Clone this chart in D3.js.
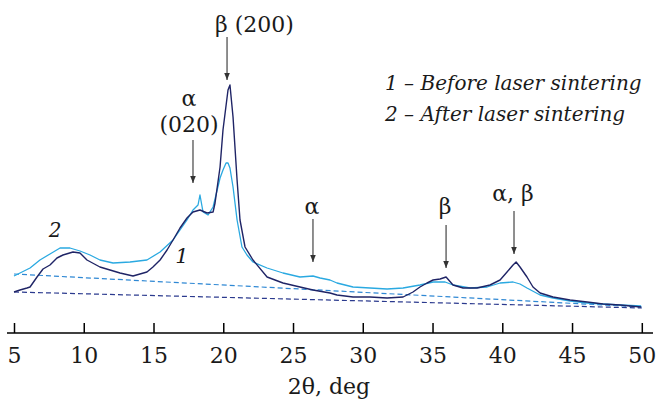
<!DOCTYPE html>
<html>
<head>
<meta charset="utf-8">
<script src="https://cdn.jsdelivr.net/npm/d3@7"></script>
<style>
  html, body { margin: 0; padding: 0; background: #fff; }
</style>
</head>
<body>
<div id="chart"></div>
<script>
// XRD patterns, 2θ in degrees, intensity in arbitrary units
const before2Theta = [5.00, 5.43, 5.93, 6.15, 6.65, 7.08, 7.58, 8.08, 8.51, 9.23, 9.73, 10.23, 11.16, 11.88, 12.60, 13.53,
  14.53, 14.96, 15.47, 15.97, 16.40, 16.90, 17.40, 17.83, 18.33, 18.84, 19.27, 19.41, 19.77, 19.98, 20.34, 20.48,
  20.70, 20.99, 21.20, 21.56, 22.13, 23.14, 24.28, 25.50, 26.43, 27.65, 28.15, 29.30, 30.52, 31.74, 32.89, 33.60,
  34.10, 34.61, 35.04, 35.54, 35.97, 36.47, 37.19, 38.19, 39.12, 39.84, 40.34, 40.77, 40.99, 41.27, 41.77, 42.20,
  42.71, 43.64, 44.86, 46.08, 47.22, 48.44, 49.95];
const beforeIntensity = [40, 42, 44, 45, 55, 63, 67, 74, 77, 80, 79, 72, 65, 62, 59, 56,
  60, 65, 72, 82, 92, 104, 114, 120, 122, 119, 120, 129, 165, 202, 242, 247,
  215, 152, 112, 85, 72, 55, 49, 45, 42, 39, 37, 35, 35, 34, 35, 40,
  45, 49, 52, 53, 55, 47, 44, 44, 47, 52, 60, 67, 70, 65, 55, 45,
  39, 35, 32, 30, 28, 27, 25];

const after2Theta = [5.00, 6.15, 6.86, 7.58, 8.30, 9.01, 9.73, 10.45, 11.16, 12.10, 13.32, 14.53, 15.47, 16.40, 17.40,
  17.83, 18.19, 18.33, 18.55, 18.91, 19.27, 19.77, 19.98, 20.20, 20.34, 20.48, 20.70, 20.99, 21.34, 21.70, 22.13,
  23.14, 24.28, 25.50, 26.43, 26.94, 27.65, 28.15, 29.30, 30.52, 31.74, 32.89, 34.10, 35.04, 35.90, 36.47, 37.69,
  38.91, 39.84, 40.77, 41.27, 41.77, 42.71, 43.64, 44.86, 46.08, 47.22, 48.44, 49.95];
const afterIntensity = [56, 64, 72, 78, 84, 84, 81, 77, 72, 69, 70, 72, 80, 92, 112,
  122, 127, 137, 120, 117, 125, 154, 162, 169, 169, 164, 145, 112, 85, 77, 70,
  64, 59, 55, 56, 54, 52, 49, 45, 44, 43, 44, 47, 50, 50, 47, 44,
  45, 49, 50, 48, 44, 37, 34, 31, 29, 28, 27, 26];

// background lines (start, end)
const baseline2Theta = [5, 50];
const beforeBaseline = [40, 24];
const afterBaseline = [58, 25];

const xTicks = [5, 10, 15, 20, 25, 30, 35, 40, 45, 50];

// peak markers: position, arrow tip intensity, label lines
const peakAt = [20.27, 17.83, 26.43, 35.97, 40.84];
const peakTip = [252, 149, 70, 64, 78];
const peakLabels = [["β (200)"], ["α", "(020)"], ["α"], ["β"], ["α, β"]];

const legendLines = ["1 – Before laser sintering", "2 – After laser sintering"];

const width = 658, height = 400;
const darkColor = "#1f2466", lightColor = "#2aa9e1";
const serif = "DejaVu Serif";

const x = d3.scaleLinear().domain([5, 50]).range([14, 641.8]);
const y = d3.scaleLinear().domain([0, 250]).range([332, 82]);

const svg = d3.select("#chart").append("svg")
  .attr("width", width)
  .attr("height", height)
  .attr("font-family", serif);

svg.append("defs").append("marker")
  .attr("id", "arrow")
  .attr("viewBox", "0 0 10 10")
  .attr("refX", 10).attr("refY", 5)
  .attr("markerWidth", 7).attr("markerHeight", 7)
  .attr("markerUnits", "userSpaceOnUse")
  .attr("orient", "auto")
  .append("path")
  .attr("d", "M0,1 L10,5 L0,9 Z")
  .attr("fill", "#333");

// dashed background lines
const dashed = [
  { v: afterBaseline, color: "#2f88d4" },
  { v: beforeBaseline, color: "#2b3a8e" }
];
svg.selectAll("line.base")
  .data(dashed)
  .enter().append("line")
  .attr("class", "base")
  .attr("x1", x(baseline2Theta[0])).attr("x2", x(baseline2Theta[1]))
  .attr("y1", d => y(d.v[0])).attr("y2", d => y(d.v[1]))
  .attr("stroke", d => d.color)
  .attr("stroke-width", 1.2)
  .attr("stroke-dasharray", "5,3");

const line = d3.line()
  .x(d => x(d[0]))
  .y(d => y(d[1]));

const series = [
  { xs: after2Theta, ys: afterIntensity, color: lightColor, w: 1.3 },
  { xs: before2Theta, ys: beforeIntensity, color: darkColor, w: 1.4 }
];

svg.selectAll("path.curve")
  .data(series)
  .enter().append("path")
  .attr("class", "curve")
  .attr("fill", "none")
  .attr("stroke", d => d.color)
  .attr("stroke-width", d => d.w)
  .attr("stroke-linejoin", "round")
  .attr("d", d => line(d.xs.map((v, i) => [v, d.ys[i]])));

// x axis
const axisY = 333;
const axis = svg.append("g")
  .attr("transform", `translate(0,${axisY})`)
  .call(d3.axisBottom(x).tickValues(xTicks).tickSizeInner(-10).tickSizeOuter(0).tickFormat(d3.format("d")))
  .attr("font-family", serif)
  .attr("font-size", 22);
axis.select(".domain").remove();
axis.selectAll(".tick line").attr("stroke", "#000").attr("stroke-width", 1.5);
axis.selectAll(".tick text")
  .attr("y", 29.5).attr("dy", 0)
  .attr("fill", "#1a1a1a");
svg.append("line")
  .attr("x1", 7).attr("x2", 653)
  .attr("y1", axisY).attr("y2", axisY)
  .attr("stroke", "#000").attr("stroke-width", 1.5);

svg.append("text")
  .attr("x", 329).attr("y", 394)
  .attr("text-anchor", "middle")
  .attr("font-size", 22)
  .attr("fill", "#1a1a1a")
  .text("2θ, deg");

// peak arrows and labels
const arrowLen = 43;
const labelGap = [5, 8, 5, 11, 10];
peakAt.forEach((deg, i) => {
  const px = x(deg), tip = y(peakTip[i]);
  svg.append("line")
    .attr("x1", px).attr("x2", px)
    .attr("y1", tip - arrowLen).attr("y2", tip)
    .attr("stroke", "#333").attr("stroke-width", 1.1)
    .attr("marker-end", "url(#arrow)");
  const lines = peakLabels[i];
  const txt = svg.append("text")
    .attr("font-size", 22)
    .attr("fill", "#1a1a1a");
  const lx = i === 0 ? px - 12 : i === 1 ? px - 4 : px - 1;
  txt.attr("text-anchor", i === 0 ? "start" : "middle");
  lines.forEach((t, j) => {
    txt.append("tspan")
      .attr("x", lx)
      .attr("y", tip - arrowLen - labelGap[i] - (lines.length - 1 - j) * 26)
      .text(t);
  });
});

// curve numbers
svg.append("text")
  .attr("x", 55).attr("y", 237)
  .attr("text-anchor", "middle")
  .attr("font-size", 20).attr("font-style", "italic")
  .attr("fill", "#1a1a1a")
  .text("2");
svg.append("text")
  .attr("x", 182).attr("y", 263)
  .attr("text-anchor", "middle")
  .attr("font-size", 21).attr("font-style", "italic")
  .attr("fill", "#1a1a1a")
  .text("1");

// legend
svg.selectAll("text.legend")
  .data(legendLines)
  .enter().append("text")
  .attr("class", "legend")
  .attr("x", 385)
  .attr("y", (d, i) => 90 + i * 31)
  .attr("font-size", 20).attr("font-style", "italic")
  .attr("fill", "#1a1a1a")
  .text(d => d);
</script>
</body>
</html>
